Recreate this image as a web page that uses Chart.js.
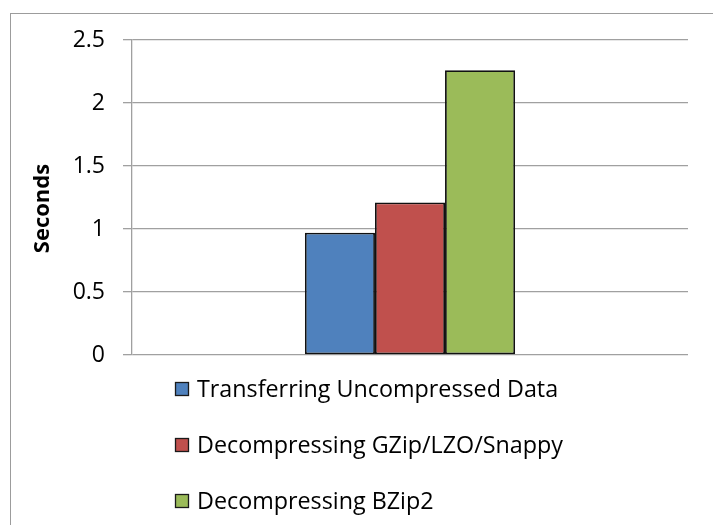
<!DOCTYPE html>
<html><head><meta charset="utf-8">
<script src="https://cdn.jsdelivr.net/npm/chart.js@4/dist/chart.umd.min.js"></script>
<style>
html,body{margin:0;padding:0;background:#fff;}
#wrap{position:relative;width:713px;height:525px;overflow:hidden;background:#fff;}
#frame{position:absolute;left:10px;top:13px;width:760px;height:600px;border:1.5px solid #9c9c9c;box-sizing:border-box;}
canvas{position:absolute;left:0;top:0;}
</style></head><body>
<div id="wrap"><div id="frame"></div><canvas id="c" width="713" height="525"></canvas></div>
<script>
// Decompression cost compared with transferring uncompressed data (seconds)
const categories = [''];
const seriesNames = ['Transferring Uncompressed Data', 'Decompressing GZip/LZO/Snappy', 'Decompressing BZip2'];
const transferring = [0.97];
const gzipLzoSnappy = [1.21];
const bzip2 = [2.26];
const seriesColors = ['#4F81BD', '#C0504D', '#9BBB59'];
const yTicks = ['0', '0.5', '1', '1.5', '2', '2.5'];

const FONT = '"Open Sans", Lato, sans-serif';

// Vertical legend list under the plot, one row per series
const listLegend = {
  id: 'listLegend',
  afterDraw(chart) {
    const ctx = chart.ctx;
    const base = chart.chartArea.bottom;
    chart.data.datasets.forEach((ds, i) => {
      const cy = base + 34 + i * 56;
      ctx.save();
      ctx.fillStyle = ds.backgroundColor;
      ctx.fillRect(175, cy - 7, 14, 14);
      ctx.strokeStyle = '#1a1a1a';
      ctx.lineWidth = 1.3;
      ctx.strokeRect(175.5, cy - 6.5, 13, 13);
      ctx.fillStyle = '#000';
      ctx.font = '23.3px ' + FONT;
      ctx.textBaseline = 'alphabetic';
      ctx.fillText(ds.label, 197, cy + 8);
      ctx.restore();
    });
  }
};

const seriesValues = [transferring, gzipLzoSnappy, bzip2];
const datasets = seriesNames.map((name, i) => ({
  label: name,
  data: seriesValues[i],
  backgroundColor: seriesColors[i],
  borderColor: '#111111',
  borderWidth: 1.8,
  borderSkipped: false,
  categoryPercentage: 0.378,
  barPercentage: 1.0
}));

new Chart(document.getElementById('c'), {
  type: 'bar',
  data: { labels: categories, datasets },
  options: {
    responsive: false,
    animation: false,
    layout: { autoPadding: false, padding: { left: 0, right: 25, top: 40, bottom: 170 } },
    plugins: { legend: { display: false }, tooltip: { enabled: false } },
    scales: {
      x: { display: false },
      y: {
        min: 0, max: 2.5,
        ticks: {
          stepSize: 0.5,
          padding: 18,
          color: '#000',
          font: { family: FONT, size: 23 },
          callback: (v, i) => yTicks[i]
        },
        grid: { color: '#a0a0a0', lineWidth: 1.3, tickLength: 9, drawTicks: true },
        border: { display: true, color: '#a0a0a0', width: 1.3 },
        title: {
          display: true, text: 'Seconds\u2002\u2002', color: '#000',
          font: { family: FONT, size: 22, weight: 'bold' },
          padding: { top: 30, bottom: 0 }
        },
        afterFit(scale) { scale.width = 132; }
      }
    }
  },
  plugins: [listLegend]
});
</script>
</body></html>
